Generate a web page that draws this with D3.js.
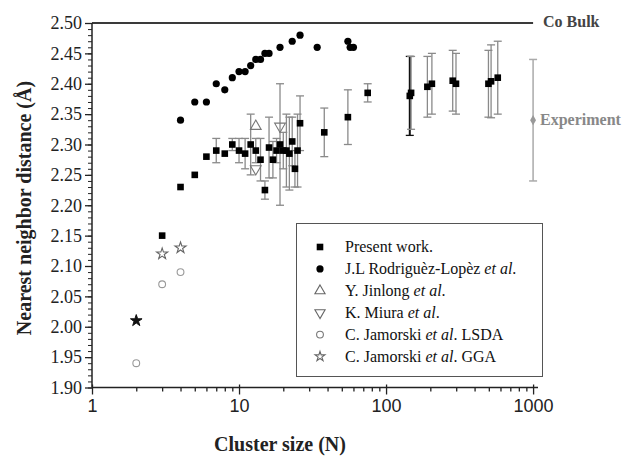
<!DOCTYPE html>
<html><head><meta charset="utf-8">
<script src="https://cdn.jsdelivr.net/npm/d3@7"></script>
<style>body{margin:0;background:#fff}svg{display:block}</style>
</head><body>
<script>
// ---- data ----
const presentN   = [3,4,5,6,7,8,9,10,11,12,13,14,15,16,17,18,19,20,21,22,23,24,25,26,38,55,75,145,148,191,205,284,299,497,518,575];
const presentY   = [2.15,2.23,2.25,2.28,2.29,2.285,2.30,2.29,2.285,2.30,2.29,2.275,2.225,2.295,2.275,2.29,2.30,2.29,2.29,2.285,2.305,2.26,2.29,2.335,2.32,2.345,2.385,2.38,2.385,2.395,2.40,2.405,2.40,2.40,2.404,2.41];
const presentErr = [0,0,0,0,0.02,0,0.01,0.02,0.025,0.05,0.02,0.035,0.015,0.05,0.03,0.02,0.10,0.03,0.06,0.06,0.04,0.03,0.06,0.045,0.04,0.045,0.015,0.065,0.06,0.05,0.05,0.05,0.05,0.055,0.06,0.06];
const rodN = [4,5,6,7,8,9,10,11,12,13,14,15,16,19,23,26,34,55,57,60];
const rodY = [2.34,2.37,2.37,2.40,2.39,2.41,2.42,2.42,2.43,2.44,2.44,2.45,2.45,2.46,2.47,2.48,2.46,2.47,2.46,2.46];
const jinN = [13];
const jinY = [2.33];
const miuraN = [13,19];
const miuraY = [2.26,2.33];
const lsdaN = [2,3,4];
const lsdaY = [1.94,2.07,2.09];
const ggaN = [3,4];
const ggaY = [2.12,2.13];
const dimerN = [2];
const dimerY = [2.01];
const bulkY = 2.50;
const expN = 1000, expY = 2.34, expErr = 0.10;
const yTicks = [1.90,1.95,2.00,2.05,2.10,2.15,2.20,2.25,2.30,2.35,2.40,2.45,2.50];
const xTicks = [1,10,100,1000];
const legendItems = [
  {sym:"square", parts:[["Present work.",false]]},
  {sym:"circle", parts:[["J.L Rodriguèz-Lopèz ",false],["et al",true],[".",false]]},
  {sym:"tri", parts:[["Y. Jinlong ",false],["et al",true],[".",false]]},
  {sym:"tridown", parts:[["K. Miura ",false],["et al",true],[".",false]]},
  {sym:"ocircle", parts:[["C. Jamorski ",false],["et al",true],[". LSDA",false]]},
  {sym:"star", parts:[["C. Jamorski ",false],["et al",true],[". GGA",false]]}
];

// ---- chart ----
const W = 624, H = 456;
const svg = d3.select("body").append("svg").attr("width", W).attr("height", H);
const x = d3.scaleLog().domain([1, 1080]).range([92, 538]);
const y = d3.scaleLinear().domain([1.90, 2.50]).range([387.5, 23]);
const serif = "'Liberation Serif','Times New Roman',serif";
const sans = "'Liberation Sans',Arial,sans-serif";
const gray = "#8a8a8a";

// Co Bulk line
svg.append("line").attr("x1", x(1)).attr("x2", x(1000)).attr("y1", y(bulkY)).attr("y2", y(bulkY))
  .attr("stroke", "#3a3a3a").attr("stroke-width", 2);
svg.append("text").attr("x", 543).attr("y", 27).text("Co Bulk")
  .attr("font-family", serif).attr("font-weight", "bold").attr("font-size", 16).attr("fill", "#444");

// y axis
const yMinor = d3.range(190, 251).map(v => v / 100);
svg.append("g").attr("transform", `translate(${x(1)},0)`)
  .call(d3.axisLeft(y).tickValues(yMinor).tickSize(4).tickFormat(""))
  .call(g => g.select(".domain").remove())
  .selectAll("line").attr("stroke", "#222");
const gy = svg.append("g").attr("transform", `translate(${x(1)},0)`)
  .call(d3.axisLeft(y).tickValues(yTicks).tickSize(7).tickPadding(3).tickFormat(d3.format(".2f")));
gy.select(".domain").attr("stroke", "#222").attr("stroke-width", 1.5).attr("d", `M0,${y(1.90)}V${y(2.50)}`);
gy.selectAll("line").attr("stroke", "#222").attr("stroke-width", 1.3);
gy.selectAll("text").attr("font-family", serif).attr("font-size", 18).attr("fill", "#222");

// x axis
const xMinor = [];
[1,10,100].forEach(d => { for (let k = 2; k <= 9; k++) xMinor.push(d * k); });
svg.append("g").attr("transform", `translate(0,${y(1.90)})`)
  .call(d3.axisBottom(x).tickValues(xMinor).tickSize(4).tickFormat(""))
  .call(g => g.select(".domain").remove())
  .selectAll("line").attr("stroke", "#222").attr("stroke-width", 1.3);
const gx = svg.append("g").attr("transform", `translate(0,${y(1.90)})`)
  .call(d3.axisBottom(x).tickValues(xTicks).tickSize(7).tickPadding(5).tickFormat(d3.format("d")));
gx.select(".domain").attr("stroke", "#222").attr("stroke-width", 1.5).attr("d", `M${x(1)},0H${x(1080)}`);
gx.selectAll("line").attr("stroke", "#222").attr("stroke-width", 1.3).attr("y1", -3);
gx.selectAll("text").attr("font-family", sans).attr("font-size", 18).attr("fill", "#222");

// axis titles
svg.append("text").attr("transform", `translate(31,208) rotate(-90)`).attr("text-anchor", "middle")
  .text("Nearest neighbor distance (Å)")
  .attr("font-family", serif).attr("font-weight", "bold").attr("font-size", 20).attr("fill", "#222");
svg.append("text").attr("x", 280).attr("y", 451).attr("text-anchor", "middle")
  .text("Cluster size (N)")
  .attr("font-family", serif).attr("font-weight", "bold").attr("font-size", 20).attr("fill", "#222");

// experiment
const capW = 4;
const expG = svg.append("g").attr("stroke", "#aaa").attr("stroke-width", 1.5);
expG.append("line").attr("x1", x(expN)).attr("x2", x(expN)).attr("y1", y(expY + expErr)).attr("y2", y(expY - expErr));
[expY + expErr, expY - expErr].forEach(v => expG.append("line").attr("x1", x(expN) - capW).attr("x2", x(expN) + capW).attr("y1", y(v)).attr("y2", y(v)));
svg.append("path").attr("d", d3.symbol(d3.symbolDiamond, 30)()).attr("transform", `translate(${x(expN)},${y(expY)})`).attr("fill", "#999");
svg.append("text").attr("x", 540).attr("y", 124.5).text("Experiment")
  .attr("font-family", serif).attr("font-weight", "bold").attr("font-size", 16).attr("fill", "#888");

// error bars
const present = presentN.map((n, i) => ({n, v: presentY[i], e: presentErr[i]}));
const eb = svg.append("g");
present.filter(d => d.e > 0).forEach(d => {
  const col = d.n === 145 ? "#111" : gray;
  const w = d.n === 145 ? 2 : 1.3;
  const g = eb.append("g").attr("stroke", col).attr("stroke-width", w);
  g.append("line").attr("x1", x(d.n)).attr("x2", x(d.n)).attr("y1", y(d.v + d.e)).attr("y2", y(d.v - d.e));
  [d.v + d.e, d.v - d.e].forEach(v => g.append("line").attr("stroke-width", 1.3)
    .attr("x1", x(d.n) - capW).attr("x2", x(d.n) + capW).attr("y1", y(v)).attr("y2", y(v)));
});

// markers
function sym(type, size) { return d3.symbol(type, size)(); }
svg.append("g").selectAll("circle").data(rodN.map((n, i) => [n, rodY[i]])).join("circle")
  .attr("cx", d => x(d[0])).attr("cy", d => y(d[1])).attr("r", 3.6).attr("fill", "#000");
svg.append("g").selectAll("rect").data(present).join("rect")
  .attr("x", d => x(d.n) - 3.3).attr("y", d => y(d.v) - 3.3).attr("width", 6.6).attr("height", 6.6).attr("fill", "#000");
svg.append("g").selectAll("path").data(jinN.map((n, i) => [n, jinY[i]])).join("path")
  .attr("d", sym(d3.symbolTriangle, 50)).attr("transform", d => `translate(${x(d[0])},${y(d[1])})`)
  .attr("fill", "none").attr("stroke", "#777").attr("stroke-width", 1.1);
svg.append("g").selectAll("path").data(miuraN.map((n, i) => [n, miuraY[i]])).join("path")
  .attr("d", sym(d3.symbolTriangle, 50)).attr("transform", d => `translate(${x(d[0])},${y(d[1])}) rotate(180)`)
  .attr("fill", "none").attr("stroke", "#777").attr("stroke-width", 1.1);
svg.append("g").selectAll("circle").data(lsdaN.map((n, i) => [n, lsdaY[i]])).join("circle")
  .attr("cx", d => x(d[0])).attr("cy", d => y(d[1])).attr("r", 3.4).attr("fill", "none").attr("stroke", "#999").attr("stroke-width", 1.1);
svg.append("g").selectAll("path").data(ggaN.map((n, i) => [n, ggaY[i]])).join("path")
  .attr("d", sym(d3.symbolStar, 38)).attr("transform", d => `translate(${x(d[0])},${y(d[1])})`)
  .attr("fill", "none").attr("stroke", "#666").attr("stroke-width", 1.1);
svg.append("g").selectAll("path").data(dimerN.map((n, i) => [n, dimerY[i]])).join("path")
  .attr("d", sym(d3.symbolStar, 42)).attr("transform", d => `translate(${x(d[0])},${y(d[1])})`)
  .attr("fill", "#111").attr("stroke", "#111").attr("stroke-width", 1);

// legend
const lg = svg.append("g");
lg.append("rect").attr("x", 296.5).attr("y", 223.5).attr("width", 246).attr("height", 153)
  .attr("fill", "#fff").attr("stroke", "#555").attr("stroke-width", 1);
legendItems.forEach((it, i) => {
  const cy = 247 + i * 21.9, cx = 320;
  if (it.sym === "square") lg.append("rect").attr("x", cx - 3.3).attr("y", cy - 3.3).attr("width", 6.6).attr("height", 6.6).attr("fill", "#000");
  else if (it.sym === "circle") lg.append("circle").attr("cx", cx).attr("cy", cy).attr("r", 3.6).attr("fill", "#000");
  else if (it.sym === "ocircle") lg.append("circle").attr("cx", cx).attr("cy", cy).attr("r", 3.4).attr("fill", "none").attr("stroke", "#777").attr("stroke-width", 1.1);
  else if (it.sym === "tri") lg.append("path").attr("d", sym(d3.symbolTriangle, 45)).attr("transform", `translate(${cx},${cy})`).attr("fill", "none").attr("stroke", "#666").attr("stroke-width", 1.1);
  else if (it.sym === "tridown") lg.append("path").attr("d", sym(d3.symbolTriangle, 45)).attr("transform", `translate(${cx},${cy}) rotate(180)`).attr("fill", "none").attr("stroke", "#666").attr("stroke-width", 1.1);
  else if (it.sym === "star") lg.append("path").attr("d", sym(d3.symbolStar, 30)).attr("transform", `translate(${cx},${cy})`).attr("fill", "none").attr("stroke", "#666").attr("stroke-width", 1.1);
  const t = lg.append("text").attr("x", 345).attr("y", cy + 5)
    .attr("font-family", serif).attr("font-size", 16).attr("fill", "#111");
  it.parts.forEach(p => t.append("tspan").text(p[0]).attr("font-style", p[1] ? "italic" : "normal"));
});
</script>
</body></html>
